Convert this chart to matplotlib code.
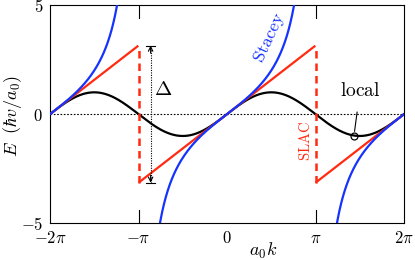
import numpy as np
import matplotlib
matplotlib.use("Agg")
import matplotlib.pyplot as plt

plt.rcParams['mathtext.fontset'] = 'cm'
plt.rcParams['font.family'] = ['DejaVu Serif']

# Data: dispersion relations E(a0 k) for three derivative operators
k = np.linspace(-2 * np.pi, 2 * np.pi, 2001)
E_local = np.sin(k)                                  # local (nearest-neighbour) derivative
E_slac = k - 2 * np.pi * np.round(k / (2 * np.pi))   # SLAC derivative (sawtooth)
E_stacey = 2 * np.tan(k / 2)                         # Stacey derivative
xticks = [-2 * np.pi, -np.pi, 0, np.pi, 2 * np.pi]
xticklabels = [r'$-2\pi$', r'$-\pi$', r'$0$', r'$\pi$', r'$2\pi$']
yticks = [-5, 0, 5]
yticklabels = [r'$-5$', r'$0$', r'$5$']
k_local_mark = 1.435 * np.pi

RED = '#ff2a10'
BLUE = '#1533ff'

fig = plt.figure(figsize=(4.15, 2.6), dpi=100)
ax = fig.add_axes([50 / 415, 1 - 223.3 / 260, 354 / 415, 218.3 / 260])

ax.axhline(0, color='black', lw=0.8, ls=(0, (1.5, 1.5)), zorder=1)

ax.plot(k, E_local, color='black', lw=1.6, zorder=2)

# SLAC: solid segments + dashed jumps
for lo, hi in [(-2 * np.pi, -np.pi), (-np.pi, np.pi), (np.pi, 2 * np.pi)]:
    m = (k > lo + 1e-9) & (k < hi - 1e-9)
    ax.plot(k[m], E_slac[m], color=RED, lw=1.6, zorder=3, solid_capstyle='butt')
for xj in [-np.pi, np.pi]:
    ax.plot([xj, xj], [-np.pi, np.pi], color=RED, lw=1.8, ls=(0, (3, 2)), zorder=3)

# Stacey: branches
for lo, hi in [(-2 * np.pi, -np.pi), (-np.pi, np.pi), (np.pi, 2 * np.pi)]:
    m = (k > lo + 1e-6) & (k < hi - 1e-6) & (np.abs(E_stacey) < 8)
    ax.plot(k[m], E_stacey[m], color=BLUE, lw=1.6, zorder=4)

# Delta arrow
xa = -np.pi + 0.43
ax.plot([xa, xa], [-np.pi, np.pi], color='black', lw=0.8, ls=(0, (1, 1.2)), zorder=5)
for y0, y1 in [(np.pi, np.pi - 0.35), (-np.pi, -np.pi + 0.35)]:
    ax.annotate('', xy=(xa, y0), xytext=(xa, y1),
                arrowprops=dict(arrowstyle='->', lw=0.8, color='black',
                                shrinkA=0, shrinkB=0, mutation_scale=8), zorder=5)
    ax.plot([xa - 0.17, xa + 0.17], [y0, y0], color='black', lw=0.8, zorder=5)
ax.text(-2.25, 1.15, r'$\Delta$', fontsize=15, ha='center', va='center')

# labels
ax.text(1.53, 3.48, r'$\mathrm{Stacey}$', color=BLUE, fontsize=13,
        rotation=65, ha='center', va='center')
ax.text(2.80, -1.24, r'$\mathrm{SLAC}$', color=RED, fontsize=10.5,
        rotation=90, ha='center', va='center')
ax.plot([k_local_mark], [np.sin(k_local_mark)], marker='o', ms=5, mfc='none',
        mec='black', mew=0.9, zorder=6)
ax.annotate(r'$\mathrm{local}$', xy=(k_local_mark, np.sin(k_local_mark)),
            xytext=(4.72, 1.08), fontsize=14, ha='center', va='center',
            arrowprops=dict(arrowstyle='-', lw=0.8, color='black',
                            shrinkA=7, shrinkB=3))

ax.set_xlim(-2 * np.pi, 2 * np.pi)
ax.set_ylim(-5, 5)
ax.set_xticks(xticks)
ax.set_xticklabels(xticklabels, fontsize=12)
ax.set_yticks(yticks)
ax.set_yticklabels(yticklabels, fontsize=12)
ax.tick_params(axis='x', length=0, pad=5)
ax.tick_params(axis='y', length=0, pad=5)
# inner ticks at +-pi on top and bottom
for xt in [-np.pi, np.pi]:
    ax.plot([xt, xt], [-5, -4.4], color='black', lw=0.8, zorder=1)
    ax.plot([xt, xt], [5, 4.4], color='black', lw=0.8, zorder=1)
for sp in ax.spines.values():
    sp.set_linewidth(0.8)
ax.set_xlabel(r'$a_0 k$', fontsize=13)
ax.xaxis.label.set_va('center')
ax.xaxis.set_label_coords((263 - 50) / 354, -(251 - 223.3) / 218.3)
ax.set_ylabel(r'$E\ \ (\hbar v/a_0)$', fontsize=13)
ax.yaxis.label.set_va('center')
ax.yaxis.set_label_coords(-(50 - 13) / 354, (223.3 - 116) / 218.3)

fig.savefig('out.png', dpi=100)
